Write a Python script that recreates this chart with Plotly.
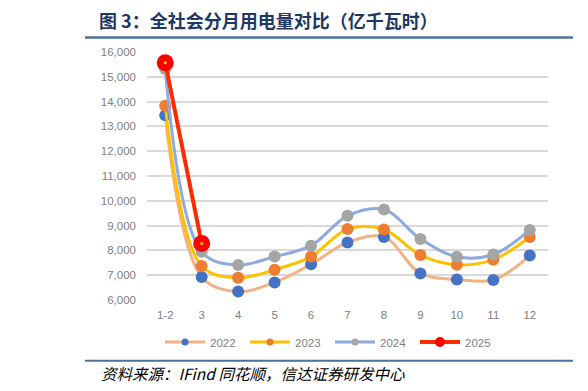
import plotly.graph_objects as go

months = ["1-2", "3", "4", "5", "6", "7", "8", "9", "10", "11", "12"]
y2022 = [13450, 6930, 6340, 6710, 7440, 8320, 8540, 7070, 6830, 6810, 7790]
y2023 = [13835, 7367, 6901, 7222, 7751, 8860, 8841, 7811, 7419, 7627, 8540]
y2024 = [15316, 7941, 7412, 7751, 8190, 9396, 9649, 8464, 7744, 7836, 8827]
y2025 = [15564, 8282]

series = [
    ("2022", y2022, "#F4B183", "#4472C4"),
    ("2023", y2023, "#FFC000", "#ED7D31"),
    ("2024", y2024, "#8FAADC", "#A5A5A5"),
]

fig = go.Figure()
for name, ys, lc, mc in series:
    fig.add_trace(go.Scatter(
        x=months, y=ys, name=name, mode="lines+markers", showlegend=False,
        line=dict(color=lc, width=3, shape="spline", smoothing=1),
        marker=dict(color=mc, size=12, line=dict(width=0)),
    ))
fig.add_trace(go.Scatter(
    x=months[:len(y2025)], y=y2025, name="2025", mode="lines+markers", showlegend=False,
    line=dict(color="#FF2A00", width=4),
    marker=dict(color="#FF0000", size=17, line=dict(width=0)),
))
fig.add_trace(go.Scatter(
    x=months[:len(y2025)], y=y2025, mode="markers", showlegend=False,
    marker=dict(color="#FFD700", size=3, line=dict(width=0)), hoverinfo="skip",
))

# legend entries (smaller symbols, as in the reference legend)
for name, ys, lc, mc in series:
    fig.add_trace(go.Scatter(
        x=[None], y=[None], name=name, mode="lines+markers",
        line=dict(color=lc, width=3), marker=dict(color=mc, size=7),
    ))
fig.add_trace(go.Scatter(
    x=[None], y=[None], name="2025", mode="lines+markers",
    line=dict(color="#FF2A00", width=4), marker=dict(color="#FF0000", size=10),
))

fig.update_layout(
    width=588, height=391,
    margin=dict(l=147, r=40, t=52, b=91),
    paper_bgcolor="white", plot_bgcolor="white",
    font=dict(family="Liberation Sans, Arial, sans-serif", size=11.5, color="#808080"),
    xaxis=dict(type="category", range=[-0.5, 10.5], showgrid=False, zeroline=False,
               showline=False, ticks="", ticklabelstandoff=6,
               tickfont=dict(size=11.5, color="#808080")),
    yaxis=dict(range=[6000, 16000], dtick=1000, tickformat=",", showgrid=True,
               gridcolor="#D9D9D9", gridwidth=1.5, zeroline=False, showline=False,
               ticks="", ticklabelstandoff=10, tickfont=dict(size=11.5, color="#808080")),
    legend=dict(orientation="h", x=(160 - 147) / 401, xanchor="left",
                y=(391 - 342 - 91) / 248, yanchor="middle",
                entrywidth=30, entrywidthmode="pixels", font=dict(size=11.5, color="#808080"),
                itemwidth=40, bgcolor="rgba(0,0,0,0)"),
    showlegend=True,
)

fig.add_annotation(
    xref="paper", yref="paper", x=(97 - 147) / 401, y=(391 - 20 - 91) / 248,
    xanchor="left", yanchor="middle", showarrow=False,
    text="<b>图 3：全社会分月用电量对比（亿千瓦时）</b>",
    font=dict(family="Noto Sans CJK SC, sans-serif", size=18, color="#203864"),
)
fig.add_annotation(
    xref="paper", yref="paper", x=(99 - 147) / 401, y=(391 - 373 - 91) / 248,
    xanchor="left", yanchor="middle", showarrow=False,
    text="<i>资料来源：IFind 同花顺，信达证券研发中心</i>",
    font=dict(family="Noto Sans CJK SC, sans-serif", size=15.5, color="#000000"),
)
fig.add_shape(type="line", xref="paper", yref="paper",
              x0=(85 - 147) / 401, x1=(573 - 147) / 401,
              y0=(391 - 37.5 - 91) / 248, y1=(391 - 37.5 - 91) / 248,
              line=dict(color="#4D7199", width=2.5))
fig.add_shape(type="line", xref="paper", yref="paper",
              x0=(85 - 147) / 401, x1=(573 - 147) / 401,
              y0=(391 - 360.7 - 91) / 248, y1=(391 - 360.7 - 91) / 248,
              line=dict(color="#4D7199", width=2))

fig.write_html("out.html")
